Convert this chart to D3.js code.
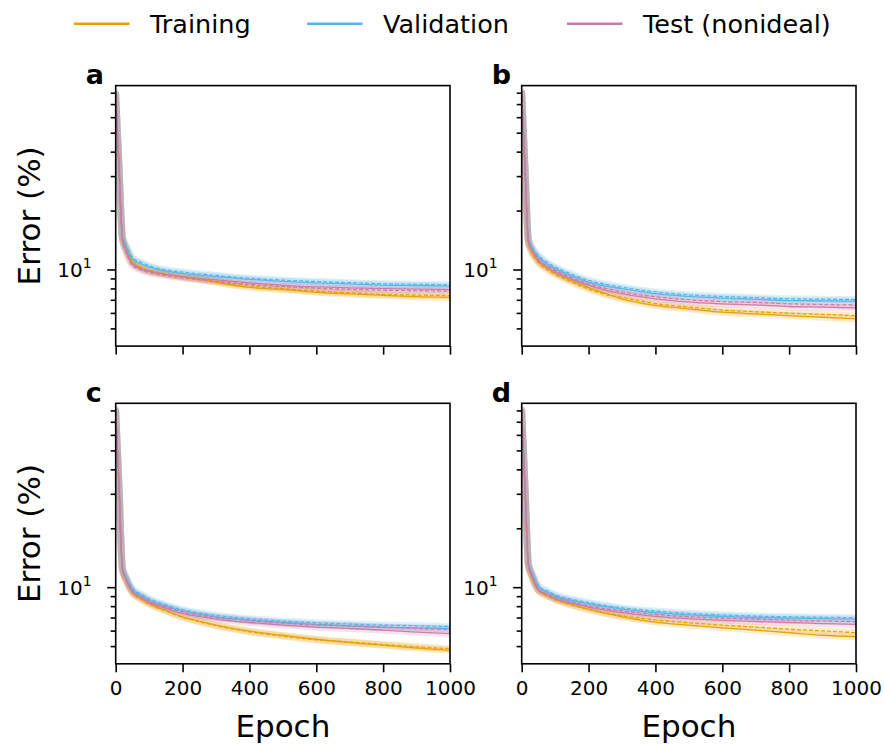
<!DOCTYPE html>
<html><head><meta charset="utf-8">
<script src="https://cdn.jsdelivr.net/npm/d3@7"></script>
<style>body{margin:0;background:#fff}svg{display:block}text{font-family:"DejaVu Sans",sans-serif}</style>
</head><body>
<svg id="c" width="884" height="744"></svg>
<script>
const epochs = [0, 10, 20, 30, 50, 75, 100, 150, 200, 250, 300, 400, 500, 600, 700, 800, 900, 1000];
const seriesNames = ["Training", "Validation", "Test (nonideal)"];
const seriesColors = ["#E69F00", "#56B4E9", "#CC79A7"];
const panelLabels = ["a", "b", "c", "d"];
const xTicks = [0, 200, 400, 600, 800, 1000];
const yMajorTicks = [10];
const yMinorTicks = [5, 6, 7, 8, 9, 20, 30, 40, 50, 60, 70, 80];

// panel a
const aTrain1 = [78, 33, 14.4, 12.8, 10.9, 10.2, 9.8, 9.45, 9.15, 8.9, 8.6, 8.1, 7.9, 7.65, 7.5, 7.38, 7.26, 7.2];
const aTrain2 = [76, 32, 14.6, 12.9, 11.0, 10.3, 9.9, 9.5, 9.2, 8.95, 8.7, 8.25, 7.98, 7.75, 7.6, 7.45, 7.4, 7.35];
const aVal1 = [80, 34, 14.8, 13.2, 11.3, 10.7, 10.3, 9.8, 9.55, 9.35, 9.2, 8.9, 8.7, 8.55, 8.45, 8.32, 8.28, 8.22];
const aVal2 = [79, 33, 14.9, 13.4, 11.5, 10.9, 10.45, 9.95, 9.7, 9.5, 9.32, 9.02, 8.82, 8.68, 8.56, 8.45, 8.4, 8.36];
const aTest1 = [79, 33, 14.3, 12.6, 10.7, 10.1, 9.8, 9.45, 9.2, 9.0, 8.85, 8.55, 8.3, 8.15, 8.05, 7.98, 7.93, 7.88];
const aTest2 = [78, 32, 14.1, 12.4, 10.5, 9.95, 9.65, 9.3, 9.05, 8.85, 8.7, 8.4, 8.18, 8.02, 7.92, 7.84, 7.8, 7.75];
// panel b
const bTrain1 = [80, 32, 13.8, 12.4, 11.0, 10.2, 9.6, 8.75, 8.08, 7.55, 7.08, 6.55, 6.29, 6.05, 5.93, 5.81, 5.7, 5.59];
const bTrain2 = [78, 31, 13.6, 12.2, 10.8, 10.0, 9.45, 8.6, 7.95, 7.45, 7.2, 6.7, 6.42, 6.2, 6.08, 5.98, 5.9, 5.8];
const bVal1 = [81, 34, 14.2, 12.9, 11.6, 10.7, 10.1, 9.25, 8.63, 8.25, 7.98, 7.52, 7.28, 7.14, 7.05, 6.94, 6.92, 6.89];
const bVal2 = [80, 33, 14.4, 13.1, 11.8, 10.9, 10.3, 9.45, 8.8, 8.4, 8.12, 7.68, 7.42, 7.28, 7.18, 7.08, 7.05, 7.02];
const bTest1 = [80, 33, 13.9, 12.6, 11.1, 10.3, 9.72, 8.9, 8.3, 7.85, 7.52, 7.08, 6.81, 6.68, 6.6, 6.47, 6.42, 6.37];
const bTest2 = [79, 32, 14.0, 12.7, 11.3, 10.5, 9.9, 9.05, 8.45, 8.0, 7.68, 7.25, 7.0, 6.86, 6.78, 6.68, 6.62, 6.58];
// panel c
const cTrain1 = [80, 32, 12.4, 11.0, 9.43, 8.75, 8.27, 7.6, 7.06, 6.7, 6.4, 5.96, 5.68, 5.42, 5.21, 5.05, 4.89, 4.76];
const cTrain2 = [78, 31, 12.2, 10.9, 9.35, 8.68, 8.2, 7.55, 7.02, 6.66, 6.36, 5.92, 5.62, 5.38, 5.25, 5.1, 4.96, 4.85];
const cVal1 = [81, 33, 12.6, 11.3, 9.7, 9.1, 8.6, 8.0, 7.56, 7.28, 7.06, 6.79, 6.6, 6.45, 6.35, 6.25, 6.2, 6.15];
const cVal2 = [80, 33, 12.7, 11.4, 9.85, 9.25, 8.75, 8.12, 7.68, 7.4, 7.18, 6.9, 6.72, 6.58, 6.48, 6.4, 6.35, 6.3];
const cTest1 = [80, 32, 12.3, 11.0, 9.43, 8.85, 8.37, 7.8, 7.35, 7.08, 6.87, 6.6, 6.4, 6.25, 6.15, 6.03, 5.9, 5.79];
const cTest2 = [79, 32, 12.4, 11.1, 9.55, 8.95, 8.48, 7.92, 7.48, 7.2, 7.0, 6.74, 6.55, 6.42, 6.34, 6.24, 6.15, 6.08];
// panel d
const dTrain1 = [80, 32, 12.9, 11.4, 9.65, 9.1, 8.69, 8.15, 7.72, 7.35, 7.06, 6.63, 6.4, 6.2, 6.03, 5.85, 5.68, 5.58];
const dTrain2 = [78, 31, 12.8, 11.3, 9.6, 9.05, 8.62, 8.1, 7.7, 7.4, 7.15, 6.8, 6.58, 6.4, 6.25, 6.1, 5.98, 5.86];
const dVal1 = [81, 33, 13.2, 11.8, 10.0, 9.45, 9.0, 8.55, 8.23, 7.95, 7.72, 7.42, 7.22, 7.1, 7.0, 6.95, 6.9, 6.86];
const dVal2 = [80, 33, 13.3, 11.9, 10.15, 9.6, 9.15, 8.68, 8.35, 8.06, 7.84, 7.55, 7.35, 7.22, 7.12, 7.06, 7.02, 6.98];
const dTest1 = [80, 32, 12.9, 11.5, 9.65, 9.15, 8.74, 8.28, 7.9, 7.63, 7.42, 7.1, 6.9, 6.77, 6.68, 6.6, 6.52, 6.45];
const dTest2 = [79, 32, 13.0, 11.6, 9.75, 9.25, 8.85, 8.4, 8.02, 7.76, 7.56, 7.25, 7.06, 6.94, 6.86, 6.78, 6.72, 6.66];

const panels = [
  [[aTrain1, aTrain2], [aVal1, aVal2], [aTest1, aTest2]],
  [[bTrain1, bTrain2], [bVal1, bVal2], [bTest1, bTest2]],
  [[cTrain1, cTrain2], [cVal1, cVal2], [cTest1, cTest2]],
  [[dTrain1, dTrain2], [dVal1, dVal2], [dTest1, dTest2]]
];

const svg = d3.select("#c");
const lefts = [115.7, 521.7], tops = [85.6, 403.3];
const W = 334.3, H = 260.5;
const ink = "#000";

panels.forEach((pd, pi) => {
  const col = pi % 2, row = Math.floor(pi / 2);
  const L = lefts[col], T = tops[row];
  const x = d3.scaleLinear().domain([0, 1000]).range([L, L + W]);
  const y = d3.scaleLog().domain([4.06, 87]).range([T + H, T]);
  const g = svg.append("g");
  const cid = "clip" + pi;
  svg.append("clipPath").attr("id", cid).append("rect").attr("x", L).attr("y", T).attr("width", W).attr("height", H);
  const plot = g.append("g").attr("clip-path", `url(#${cid})`);
  const line = d3.line().x((d, i) => x(epochs[i])).y(d => y(d)).curve(d3.curveMonotoneX);
  pd.forEach((runs, si) => {
    runs.forEach(r => {
      plot.append("path").attr("d", line(r)).attr("fill", "none")
        .attr("stroke", seriesColors[si]).attr("stroke-opacity", 0.2)
        .attr("stroke-width", 7).attr("stroke-linejoin", "round").attr("stroke-linecap", "round");
    });
  });
  pd.forEach((runs, si) => {
    runs.forEach((r, ri) => {
      plot.append("path").attr("d", line(r)).attr("fill", "none")
        .attr("stroke", seriesColors[si]).attr("stroke-width", 1.3)
        .attr("stroke-dasharray", ri === 1 ? "4,2" : null).attr("stroke-opacity", 0.95);
    });
  });
  const xa = d3.axisBottom(x).tickValues(xTicks).tickSize(8.5).tickPadding(9)
    .tickFormat(row === 1 ? d3.format("d") : () => "");
  const xg = g.append("g").attr("transform", `translate(0,${T + H})`).call(xa);
  const ya = d3.axisLeft(y).tickValues(yMajorTicks).tickSize(8.5).tickFormat(() => "");
  const yg = g.append("g").attr("transform", `translate(${L},0)`).call(ya);
  const yam = d3.axisLeft(y).tickValues(yMinorTicks).tickSize(5).tickFormat(() => "");
  const ygm = g.append("g").attr("transform", `translate(${L},0)`).call(yam);
  [xg, yg, ygm].forEach(a => {
    a.select(".domain").remove();
    a.selectAll(".tick line").attr("stroke", ink).attr("stroke-width", 1.6);
    a.selectAll(".tick text").attr("fill", ink).attr("font-size", 20).attr("font-family", "DejaVu Sans");
  });
  yMajorTicks.forEach(v => {
    const t = g.append("text").attr("x", L - 24).attr("y", y(v) + 7.5).attr("text-anchor", "end")
      .attr("font-size", 20).attr("fill", ink);
    t.append("tspan").text("10");
    t.append("tspan").attr("font-size", 14).attr("dy", -9).text("1");
  });
  g.append("rect").attr("x", L).attr("y", T).attr("width", W).attr("height", H)
    .attr("fill", "none").attr("stroke", ink).attr("stroke-width", 1.6);
  g.append("text").attr("x", L - 30).attr("y", T - 1.5).attr("font-size", 27).attr("font-weight", "bold")
    .attr("fill", ink).text(panelLabels[pi]);
  if (col === 0) {
    g.append("text").attr("transform", `translate(40,${T + H / 2}) rotate(-90)`).attr("text-anchor", "middle")
      .attr("font-size", 31).attr("fill", ink).text("Error (%)");
  }
  if (row === 1) {
    g.append("text").attr("x", L + W / 2).attr("y", 737).attr("text-anchor", "middle")
      .attr("font-size", 31).attr("fill", ink).text("Epoch");
  }
});

const legX = [74, 307, 567];
const lg = svg.append("g");
seriesNames.forEach((n, i) => {
  lg.append("line").attr("x1", legX[i]).attr("x2", legX[i] + 55.5).attr("y1", 23.7).attr("y2", 23.7)
    .attr("stroke", seriesColors[i]).attr("stroke-width", 2.6);
  lg.append("text").attr("x", legX[i] + 76).attr("y", 32.5).attr("font-size", 25.5).attr("fill", ink).text(n);
});
</script>
</body></html>
